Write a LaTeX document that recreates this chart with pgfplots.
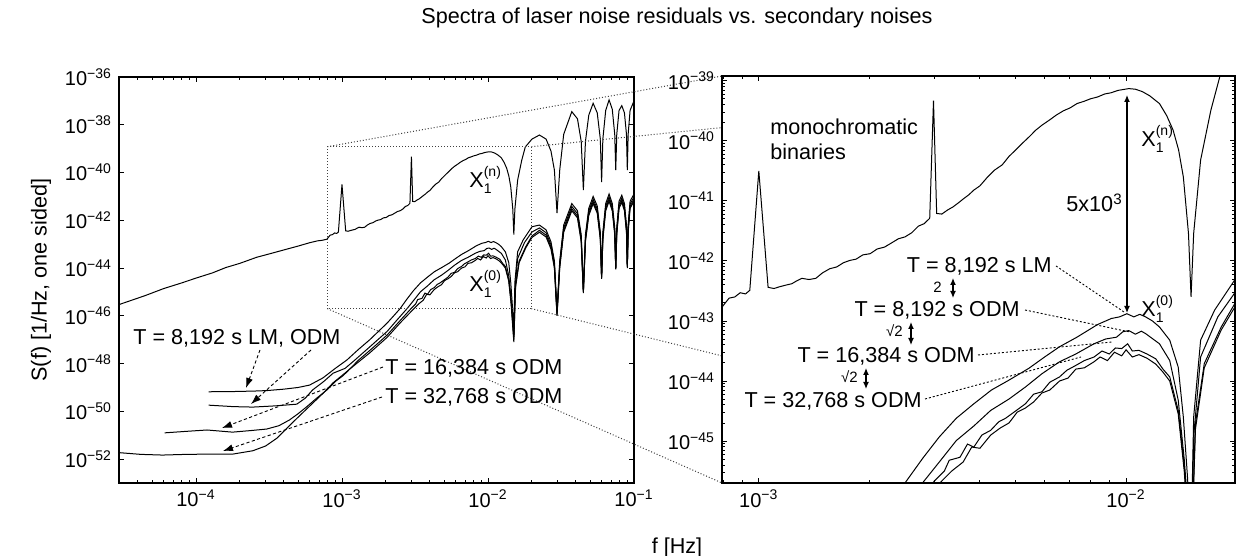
\documentclass[border=0pt]{standalone}
\usepackage{fontspec}
\setmainfont{Liberation Sans}
\usepackage{pgfplots}
\usepackage{pgfplotstable}
\pgfplotsset{compat=1.18}
\usetikzlibrary{arrows.meta}

\newcommand{\tl}[1]{10\textsuperscript{−#1}}
\newcommand{\Xlab}[1]{X\rlap{\raisebox{1.0ex}{\fontsize{7}{8}\selectfont(#1)}}\raisebox{-0.45ex}{\fontsize{7}{8}\selectfont 1}}

% X1 with laser noise (upper curve)
\pgfplotstableread{
f S
3.0e-5 3.02e-46
4.5e-5 7.08e-46
6.0e-5 1.38e-45
8.0e-5 2.40e-45
1.0e-4 3.80e-45
1.3e-4 6.31e-45
1.6e-4 1.05e-44
2.0e-4 1.58e-44
2.6e-4 2.82e-44
3.3e-4 4.17e-44
4.0e-4 5.75e-44
5.0e-4 8.32e-44
6.0e-4 1.15e-43
6.8e-4 1.38e-43
7.3e-4 1.45e-43
7.89e-4 1.62e-43
8.3e-4 2.40e-43
8.6e-4 2.51e-43
8.9e-4 2.95e-43
9.2e-4 2.82e-43
9.45e-4 3.24e-43
1.0e-3 3.16e-41
1.06e-3 3.63e-43
1.1e-3 3.47e-43
1.14e-3 3.72e-43
1.19e-3 3.98e-43
1.23e-3 4.17e-43
1.27e-3 4.68e-43
1.31e-3 5.13e-43
1.37e-3 4.90e-43
1.43e-3 5.13e-43
1.49e-3 6.31e-43
1.56e-3 7.41e-43
1.63e-3 7.94e-43
1.70e-3 9.33e-43
1.77e-3 1.02e-42
1.84e-3 1.07e-42
1.92e-3 1.26e-42
2.01e-3 1.32e-42
2.10e-3 1.58e-42
2.20e-3 1.70e-42
2.30e-3 2.00e-42
2.40e-3 2.34e-42
2.50e-3 2.51e-42
2.61e-3 2.95e-42
2.72e-3 3.80e-42
2.82e-3 4.17e-42
2.92e-3 5.13e-42
2.99e-3 4.68e-40
3.05e-3 6.17e-42
3.15e-3 6.03e-42
3.27e-3 7.08e-42
3.38e-3 7.94e-42
3.50e-3 9.33e-42
3.62e-3 1.10e-41
3.73e-3 1.26e-41
3.85e-3 1.51e-41
4.0e-3 1.78e-41
4.2e-3 2.51e-41
4.38e-3 3.24e-41
4.6e-3 3.98e-41
4.8e-3 5.50e-41
4.99e-3 6.92e-41
5.2e-3 8.91e-41
5.45e-3 1.17e-40
5.68e-3 1.51e-40
5.9e-3 1.82e-40
6.2e-3 2.24e-40
6.46e-3 2.69e-40
6.75e-3 3.16e-40
7.05e-3 3.55e-40
7.35e-3 4.17e-40
7.7e-3 4.57e-40
8.0e-3 5.01e-40
8.36e-3 5.37e-40
8.75e-3 6.03e-40
9.1e-3 6.31e-40
9.51e-3 6.92e-40
1.017e-2 7.41e-40
1.06e-2 7.24e-40
1.107e-2 6.61e-40
1.16e-2 5.62e-40
1.233e-2 4.17e-40
1.29e-2 2.63e-40
1.343e-2 1.51e-40
1.39e-2 7.08e-41
1.432e-2 2.51e-41
1.479e-2 2.88e-42
1.503e-2 2.51e-43
1.528e-2 2.88e-42
1.596e-2 4.79e-41
1.702e-2 3.24e-40
1.80e-2 1.17e-39
2.0e-2 2.51e-39
2.25e-2 3.72e-39
2.5e-2 2.51e-39
2.7e-2 7.94e-40
2.85e-2 1.26e-40
2.97e-2 2.00e-42
3.1e-2 1.26e-40
3.3e-2 3.98e-39
3.75e-2 3.55e-38
4.1e-2 1.78e-38
4.35e-2 2.00e-39
4.5e-2 1.86e-41
4.65e-2 2.00e-39
4.9e-2 2.51e-38
5.25e-2 7.94e-38
5.6e-2 3.16e-38
5.88e-2 2.51e-39
6.0e-2 3.98e-41
6.12e-2 2.51e-39
6.4e-2 3.98e-38
6.75e-2 1.10e-37
7.1e-2 4.47e-38
7.38e-2 3.98e-39
7.5e-2 1.26e-40
7.62e-2 3.98e-39
7.9e-2 3.98e-38
8.25e-2 6.31e-38
8.6e-2 3.16e-38
8.88e-2 3.98e-39
9.0e-2 1.26e-40
9.12e-2 3.98e-39
9.4e-2 3.98e-38
1.0e-1 1.00e-37
}\tXn

% T = 8192 s, LM
\pgfplotstableread{
f S
1.22e-4 6.61e-50
1.8e-4 6.76e-50
2.5e-4 7.08e-50
3.05e-4 7.41e-50
4.0e-4 8.51e-50
5.0e-4 1.00e-49
6.0e-4 1.26e-49
7.4e-4 2.51e-49
9.0e-4 6.31e-49
1.08e-3 1.41e-48
1.3e-3 3.98e-48
1.55e-3 1.00e-47
1.8e-3 2.40e-47
2.04e-3 5.01e-47
2.26e-3 1.00e-46
2.5e-3 2.00e-46
2.8e-3 5.25e-46
3.1e-3 1.17e-45
3.45e-3 2.40e-45
3.85e-3 4.17e-45
4.3e-3 7.08e-45
4.78e-3 1.02e-44
5.43e-3 1.62e-44
6.0e-3 2.51e-44
6.59e-3 3.72e-44
7.35e-3 5.37e-44
8.36e-3 8.71e-44
9.12e-3 1.10e-43
9.6e-3 1.17e-43
1.005e-2 1.32e-43
1.05e-2 1.17e-43
1.09e-2 1.29e-43
1.13e-2 1.17e-43
1.18e-2 1.00e-43
1.233e-2 7.94e-44
1.315e-2 4.79e-44
1.387e-2 1.70e-44
1.432e-2 2.51e-45
1.47e-2 2.51e-46
1.503e-2 2.00e-47
1.528e-2 2.51e-45
1.596e-2 4.79e-44
1.742e-2 1.51e-43
2.0e-2 5.37e-43
2.25e-2 6.31e-43
2.5e-2 3.98e-43
2.7e-2 1.26e-43
2.85e-2 2.00e-44
2.97e-2 1.48e-46
3.1e-2 2.00e-44
3.3e-2 6.31e-43
3.75e-2 5.01e-42
4.1e-2 2.51e-42
4.35e-2 2.51e-43
4.5e-2 1.20e-45
4.65e-2 2.51e-43
4.9e-2 3.16e-42
5.25e-2 1.00e-41
5.6e-2 3.98e-42
5.88e-2 3.16e-43
6.0e-2 4.37e-45
6.12e-2 3.16e-43
6.4e-2 5.01e-42
6.75e-2 1.26e-41
7.1e-2 5.01e-42
7.38e-2 5.01e-43
7.5e-2 1.15e-44
7.62e-2 5.01e-43
7.9e-2 6.31e-42
8.25e-2 1.12e-41
8.6e-2 5.01e-42
8.88e-2 6.31e-43
9.0e-2 1.26e-44
9.12e-2 6.31e-43
9.4e-2 6.31e-42
1.0e-1 1.26e-41
}\tLMa

% T = 8192 s, ODM
\pgfplotstableread{
f S
1.22e-4 1.82e-50
1.8e-4 1.58e-50
2.45e-4 1.51e-50
3.5e-4 1.70e-50
4.9e-4 2.00e-50
5.6e-4 3.55e-50
6.3e-4 7.94e-50
7.5e-4 1.78e-49
8.7e-4 3.98e-49
1.05e-3 6.31e-49
1.2e-3 1.26e-48
1.55e-3 5.01e-48
2.04e-3 2.24e-47
2.4e-3 7.08e-47
2.79e-3 2.00e-46
3.1e-3 4.47e-46
3.45e-3 1.02e-45
3.85e-3 1.78e-45
4.28e-3 3.24e-45
4.8e-3 5.01e-45
5.32e-3 7.94e-45
5.9e-3 1.32e-44
6.59e-3 2.09e-44
7.3e-3 2.82e-44
8.18e-3 4.17e-44
8.8e-3 5.01e-44
9.42e-3 5.37e-44
9.8e-3 6.61e-44
1.017e-2 6.92e-44
1.06e-2 6.03e-44
1.1e-2 6.76e-44
1.13e-2 6.17e-44
1.233e-2 4.17e-44
1.315e-2 2.19e-44
1.387e-2 4.79e-45
1.44e-2 5.01e-46
1.503e-2 1.58e-47
1.53e-2 1.32e-45
1.596e-2 2.51e-44
1.778e-2 1.17e-43
2.0e-2 3.24e-43
2.25e-2 4.79e-43
2.5e-2 3.02e-43
2.7e-2 9.55e-44
2.85e-2 1.51e-44
2.97e-2 1.26e-46
3.1e-2 1.51e-44
3.3e-2 4.79e-43
3.75e-2 3.80e-42
4.1e-2 1.91e-42
4.35e-2 1.91e-43
4.5e-2 1.00e-45
4.65e-2 1.91e-43
4.9e-2 2.40e-42
5.25e-2 7.59e-42
5.6e-2 3.02e-42
5.88e-2 2.40e-43
6.0e-2 3.98e-45
6.12e-2 2.40e-43
6.4e-2 3.80e-42
6.75e-2 9.55e-42
7.1e-2 3.80e-42
7.38e-2 3.80e-43
7.5e-2 1.00e-44
7.62e-2 3.80e-43
7.9e-2 4.79e-42
8.25e-2 8.51e-42
8.6e-2 3.80e-42
8.88e-2 4.79e-43
9.0e-2 1.12e-44
9.12e-2 4.79e-43
9.4e-2 4.79e-42
1.0e-1 9.55e-42
}\tODMa

% T = 16384 s, ODM
\pgfplotstableread{
f S
6.1e-5 1.26e-51
8.5e-5 1.45e-51
1.19e-4 1.66e-51
1.78e-4 1.35e-51
2.4e-4 1.58e-51
3.05e-4 1.82e-51
3.7e-4 2.51e-51
4.37e-4 4.37e-51
5.0e-4 7.94e-51
5.75e-4 1.58e-50
6.7e-4 3.55e-50
7.9e-4 7.94e-50
9.0e-4 1.78e-49
1.02e-3 3.16e-49
1.1e-3 5.01e-49
1.3e-3 1.41e-48
1.55e-3 3.55e-48
1.8e-3 7.94e-48
2.04e-3 1.58e-47
2.5e-3 6.31e-47
2.97e-3 2.00e-46
3.2e-3 3.16e-46
3.3e-3 4.79e-46
3.53e-3 5.37e-46
3.7e-3 8.91e-46
3.85e-3 7.94e-46
4.05e-3 1.26e-45
4.28e-3 1.51e-45
4.5e-3 2.09e-45
4.7e-3 2.40e-45
5.0e-3 3.16e-45
5.32e-3 4.17e-45
5.6e-3 6.03e-45
5.9e-3 6.61e-45
6.2e-3 9.55e-45
6.59e-3 1.17e-44
6.9e-3 1.51e-44
7.3e-3 1.82e-44
7.7e-3 2.19e-44
8.18e-3 2.51e-44
8.6e-3 3.16e-44
9.0e-3 2.82e-44
9.35e-3 3.55e-44
9.73e-3 3.47e-44
1.01e-2 4.17e-44
1.04e-2 3.16e-44
1.084e-2 3.24e-44
1.14e-2 2.82e-44
1.205e-2 2.34e-44
1.26e-2 1.58e-44
1.315e-2 1.17e-44
1.387e-2 3.24e-45
1.44e-2 3.98e-46
1.503e-2 1.00e-47
1.545e-2 1.95e-45
1.633e-2 1.95e-44
1.816e-2 7.94e-44
2.0e-2 2.19e-43
2.25e-2 3.80e-43
2.5e-2 2.40e-43
2.7e-2 7.59e-44
2.85e-2 1.20e-44
2.97e-2 1.12e-46
3.1e-2 1.20e-44
3.3e-2 3.80e-43
3.75e-2 3.02e-42
4.1e-2 1.51e-42
4.35e-2 1.51e-43
4.5e-2 1.00e-45
4.65e-2 1.51e-43
4.9e-2 1.91e-42
5.25e-2 6.03e-42
5.6e-2 2.40e-42
5.88e-2 1.91e-43
6.0e-2 3.98e-45
6.12e-2 1.91e-43
6.4e-2 3.02e-42
6.75e-2 7.59e-42
7.1e-2 3.02e-42
7.38e-2 3.02e-43
7.5e-2 1.00e-44
7.62e-2 3.02e-43
7.9e-2 3.80e-42
8.25e-2 6.76e-42
8.6e-2 3.02e-42
8.88e-2 3.80e-43
9.0e-2 1.12e-44
9.12e-2 3.80e-43
9.4e-2 3.80e-42
1.0e-1 7.59e-42
}\tODMb

% T = 32768 s, ODM
\pgfplotstableread{
f S
3.0e-5 1.86e-52
4.2e-5 1.58e-52
5.9e-5 1.48e-52
8.5e-5 1.58e-52
1.19e-4 1.62e-52
1.78e-4 1.62e-52
2.45e-4 2.24e-52
3.0e-4 3.55e-52
3.59e-4 7.59e-52
4.62e-4 3.55e-51
5.4e-4 8.91e-51
6.3e-4 2.19e-50
7.4e-4 5.62e-50
8.7e-4 1.58e-49
1.0e-3 3.16e-49
1.2e-3 7.94e-49
1.55e-3 2.82e-48
2.04e-3 1.26e-47
2.5e-3 5.01e-47
3.11e-3 2.00e-46
3.35e-3 3.16e-46
3.6e-3 4.47e-46
3.8e-3 7.94e-46
4.0e-3 7.59e-46
4.28e-3 1.26e-45
4.55e-3 1.66e-45
4.8e-3 2.00e-45
5.05e-3 3.02e-45
5.32e-3 3.55e-45
5.6e-3 4.47e-45
5.9e-3 6.31e-45
6.2e-3 7.08e-45
6.59e-3 1.00e-44
6.95e-3 1.12e-44
7.3e-3 1.58e-44
7.7e-3 1.66e-44
8.18e-3 2.09e-44
8.5e-3 2.51e-44
8.9e-3 2.19e-44
9.3e-3 3.02e-44
9.73e-3 2.63e-44
1.0e-2 3.31e-44
1.04e-2 2.51e-44
1.084e-2 2.75e-44
1.14e-2 2.40e-44
1.205e-2 1.91e-44
1.26e-2 1.41e-44
1.315e-2 1.00e-44
1.387e-2 2.82e-45
1.44e-2 3.16e-46
1.503e-2 7.94e-48
1.545e-2 1.58e-45
1.633e-2 1.66e-44
1.816e-2 7.08e-44
2.0e-2 1.91e-43
2.25e-2 3.16e-43
2.5e-2 2.00e-43
2.7e-2 6.31e-44
2.85e-2 1.00e-44
2.97e-2 1.00e-46
3.1e-2 1.00e-44
3.3e-2 3.16e-43
3.75e-2 2.51e-42
4.1e-2 1.26e-42
4.35e-2 1.26e-43
4.5e-2 8.91e-46
4.65e-2 1.26e-43
4.9e-2 1.58e-42
5.25e-2 5.01e-42
5.6e-2 2.00e-42
5.88e-2 1.58e-43
6.0e-2 3.55e-45
6.12e-2 1.58e-43
6.4e-2 2.51e-42
6.75e-2 6.31e-42
7.1e-2 2.51e-42
7.38e-2 2.51e-43
7.5e-2 8.91e-45
7.62e-2 2.51e-43
7.9e-2 3.16e-42
8.25e-2 5.62e-42
8.6e-2 2.51e-42
8.88e-2 3.16e-43
9.0e-2 1.00e-44
9.12e-2 3.16e-43
9.4e-2 3.16e-42
1.0e-1 6.31e-42
}\tODMc

\begin{document}
\begin{tikzpicture}
\path[use as bounding box] (0,0) rectangle (618.5pt,278pt);

\begin{axis}[
    scale only axis,
    xmode=log, ymode=log,
    at={(59.5pt,36.5pt)}, anchor=south west,
    width=257.5pt, height=203pt,
    axis line style={line width=0.9pt},
    tick align=inside,
    major tick length=2.5pt,
    minor tick length=1.5pt,
    every tick/.append style={black, line width=0.45pt},
    tick label style={font=\fontsize{10}{12}\selectfont},
    label style={font=\fontsize{10.8}{12}\selectfont},
    xmin=2.97e-5, xmax=0.1,
    ymin=1e-53, ymax=1e-36,
    xtick={1e-4,1e-3,1e-2,1e-1},
    xticklabels={\tl{4},\tl{3},\tl{2},\tl{1}},
    minor xtick={3e-5,4e-5,5e-5,6e-5,7e-5,8e-5,9e-5,2e-4,3e-4,4e-4,5e-4,6e-4,7e-4,8e-4,9e-4,2e-3,3e-3,4e-3,5e-3,6e-3,7e-3,8e-3,9e-3,2e-2,3e-2,4e-2,5e-2,6e-2,7e-2,8e-2,9e-2},
    ytick={1e-52,1e-50,1e-48,1e-46,1e-44,1e-42,1e-40,1e-38,1e-36},
    yticklabels={\tl{52},\tl{50},\tl{48},\tl{46},\tl{44},\tl{42},\tl{40},\tl{38},\tl{36}},
    yminorticks=false,
    ylabel={S(f) [1/Hz, one sided]},
]
\addplot[black, mark=none, line width=0.5pt] table[x=f,y=S] {\tXn};
\addplot[black, mark=none, line width=0.5pt] table[x=f,y=S] {\tLMa};
\addplot[black, mark=none, line width=0.5pt] table[x=f,y=S] {\tODMa};
\addplot[black, mark=none, line width=0.5pt] table[x=f,y=S] {\tODMb};
\addplot[black, mark=none, line width=0.5pt] table[x=f,y=S] {\tODMc};
\draw[densely dotted, black!75, line width=0.5pt] (axis cs:7.94e-4,2.0e-46) rectangle (axis cs:1.98e-2,1.2e-39);
\coordinate (bl) at (axis cs:7.94e-4,2.0e-46);
\coordinate (tl) at (axis cs:7.94e-4,1.2e-39);
\coordinate (br) at (axis cs:1.98e-2,2.0e-46);
\coordinate (tr) at (axis cs:1.98e-2,1.2e-39);
\end{axis}

% lines from the zoom box to the right panel
\draw[densely dotted, black!75, line width=0.5pt] (tl) -- (361pt,240pt);
\draw[densely dotted, black!75, line width=0.5pt] (tr) -- (617.5pt,240pt);
\draw[densely dotted, black!75, line width=0.5pt] (bl) -- (361pt,36.5pt);
\draw[densely dotted, black!75, line width=0.5pt] (br) -- (617.5pt,36.5pt);

\begin{axis}[
    scale only axis,
    xmode=log, ymode=log,
    at={(361pt,36.5pt)}, anchor=south west,
    width=256.5pt, height=203.5pt,
    axis background/.style={fill=white},
    axis line style={line width=0.9pt},
    tick align=inside,
    major tick length=2.5pt,
    minor tick length=1.5pt,
    every tick/.append style={black, line width=0.45pt},
    tick label style={font=\fontsize{10}{12}\selectfont},
    xmin=7.94e-4, xmax=1.98e-2,
    ymin=2.0e-46, ymax=1.2e-39,
    xtick={1e-3,1e-2},
    xticklabels={\tl{3},\tl{2}},
    minor xtick={8e-4,9e-4,2e-3,3e-3,4e-3,5e-3,6e-3,7e-3,8e-3,9e-3},
    ytick={1e-45,1e-44,1e-43,1e-42,1e-41,1e-40,1e-39},
    yticklabels={\tl{45},\tl{44},\tl{43},\tl{42},\tl{41},\tl{40},\tl{39}},
    minor ytick={3e-46,4e-46,5e-46,6e-46,7e-46,8e-46,9e-46,2e-45,3e-45,4e-45,5e-45,6e-45,7e-45,8e-45,9e-45,2e-44,3e-44,4e-44,5e-44,6e-44,7e-44,8e-44,9e-44,2e-43,3e-43,4e-43,5e-43,6e-43,7e-43,8e-43,9e-43,2e-42,3e-42,4e-42,5e-42,6e-42,7e-42,8e-42,9e-42,2e-41,3e-41,4e-41,5e-41,6e-41,7e-41,8e-41,9e-41,2e-40,3e-40,4e-40,5e-40,6e-40,7e-40,8e-40,9e-40},
]
\addplot[black, mark=none, line width=0.5pt] table[x=f,y=S] {\tXn};
\addplot[black, mark=none, line width=0.5pt] table[x=f,y=S] {\tLMa};
\addplot[black, mark=none, line width=0.5pt] table[x=f,y=S] {\tODMa};
\addplot[black, mark=none, line width=0.5pt] table[x=f,y=S] {\tODMb};
\addplot[black, mark=none, line width=0.5pt] table[x=f,y=S] {\tODMc};
\end{axis}

% annotations, in pixel units of the reference (y downwards)
\begin{scope}[x=0.5pt, y=-0.5pt, yshift=278pt,
    every node/.style={inner sep=0pt, font=\fontsize{10.8}{12}\selectfont},
    lead/.style={black, line width=0.45pt, dash pattern=on 1pt off 1pt},
    darr/.style={black, line width=0.45pt, dash pattern=on 1.6pt off 1.2pt, -{Latex[length=5pt,width=3.5pt]}},
    varr/.style={black, line width=0.6pt, {Latex[length=3.5pt,width=3pt]}-{Latex[length=3.5pt,width=3pt]}}]
\node at (677,18) {Spectra of laser noise residuals vs. secondary noises};
\node at (677,548) {f [Hz]};
% left panel
\node[anchor=base west] at (469,188) {\Xlab{n}};
\node[anchor=base west] at (469,292) {\Xlab{0}};
\node[anchor=base west] at (133,345) {T = 8,192 s LM, ODM};
\node[anchor=base west] at (385,375) {T = 16,384 s ODM};
\node[anchor=base west] at (385,404) {T = 32,768 s ODM};
\draw[darr] (260,350) -- (246,388);
\draw[darr] (311,350) -- (251,404);
\draw[darr] (383,367) -- (222,428);
\draw[darr] (382,397) -- (223,451);
% right panel
\node[anchor=base west] at (770,135) {monochromatic};
\node[anchor=base west] at (770,160) {binaries};
\node[anchor=base west] at (1141,147) {\Xlab{n}};
\node[anchor=base west] at (1066,212) {5x10\textsuperscript{3}};
\draw[varr] (1127,95) -- (1127,313);
\node[anchor=base west] at (1141,317) {\Xlab{0}};
\node[anchor=base east] at (1052,273) {T = 8,192 s LM};
\node[anchor=base east] at (1020,317) {T = 8,192 s ODM};
\node[anchor=base east] at (975,363) {T = 16,384 s ODM};
\node[anchor=base east] at (922,408) {T = 32,768 s ODM};
\draw[lead] (1056,266) -- (1124,312);
\draw[lead] (1025,310) -- (1130,332);
\draw[lead] (978,355) -- (1112,342);
\draw[lead] (925,399) -- (1081,357);
\node[anchor=base east, font=\fontsize{7.5}{9}\selectfont] at (942,293) {2};
\draw[varr] (953,278) -- (953,298);
\node[anchor=base east, font=\fontsize{7.5}{9}\selectfont] at (903,337) {√2};
\draw[varr] (911,322) -- (911,345);
\node[anchor=base east, font=\fontsize{7.5}{9}\selectfont] at (858,383) {√2};
\draw[varr] (866,368) -- (866,389);
\end{scope}
\end{tikzpicture}
\end{document}
